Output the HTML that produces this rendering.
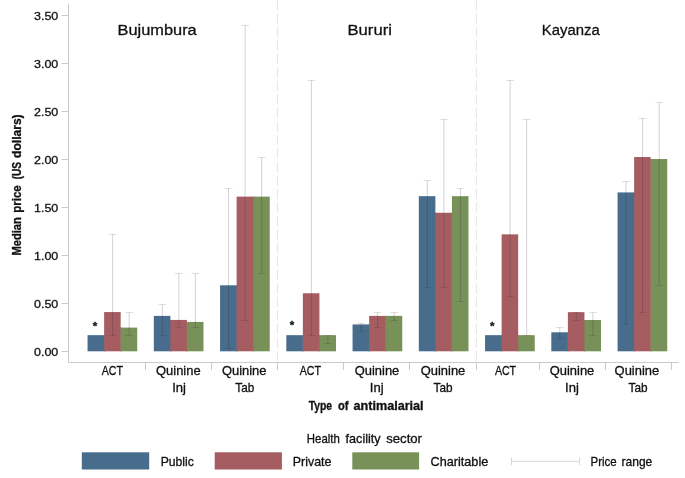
<!DOCTYPE html>
<html lang="en"><head><meta charset="utf-8"><title>Median price of antimalarials</title>
<style>html,body{margin:0;padding:0;background:#fff}svg{display:block}text{font-family:"Liberation Sans",sans-serif;fill:#111;stroke:#111;stroke-width:0.3px;stroke-linejoin:round}</style>
</head><body>
<svg width="685" height="478" viewBox="0 0 685 478">
<rect width="685" height="478" fill="#fff"/>
<line x1="277.4" y1="0" x2="277.4" y2="362.5" stroke="#e5e5e5" stroke-width="1" stroke-dasharray="10 3.5"/>
<line x1="476.4" y1="0" x2="476.4" y2="362.5" stroke="#e5e5e5" stroke-width="1" stroke-dasharray="10 3.5"/>
<rect x="103.62" y="335.18" width="1.5" height="16.12" fill="#486c8c"/>
<rect x="87.56" y="335.18" width="16.56" height="16.12" fill="#486c8c"/>
<rect x="120.18" y="327.60" width="1.5" height="23.70" fill="#a65d62"/>
<rect x="104.12" y="312.06" width="16.56" height="39.24" fill="#a65d62"/>
<rect x="120.68" y="327.60" width="16.56" height="23.70" fill="#779159"/>
<rect x="169.87" y="319.93" width="1.5" height="31.37" fill="#486c8c"/>
<rect x="153.81" y="315.90" width="16.56" height="35.40" fill="#486c8c"/>
<rect x="186.43" y="321.94" width="1.5" height="29.36" fill="#a65d62"/>
<rect x="170.37" y="319.93" width="16.56" height="31.37" fill="#a65d62"/>
<rect x="186.93" y="321.94" width="16.56" height="29.36" fill="#779159"/>
<rect x="236.12" y="285.29" width="1.5" height="66.01" fill="#486c8c"/>
<rect x="220.06" y="285.29" width="16.56" height="66.01" fill="#486c8c"/>
<rect x="252.68" y="196.64" width="1.5" height="154.66" fill="#a65d62"/>
<rect x="236.62" y="196.64" width="16.56" height="154.66" fill="#a65d62"/>
<rect x="253.18" y="196.64" width="16.56" height="154.66" fill="#779159"/>
<rect x="302.37" y="335.18" width="1.5" height="16.12" fill="#486c8c"/>
<rect x="286.31" y="335.18" width="16.56" height="16.12" fill="#486c8c"/>
<rect x="318.93" y="335.18" width="1.5" height="16.12" fill="#a65d62"/>
<rect x="302.87" y="293.26" width="16.56" height="58.04" fill="#a65d62"/>
<rect x="319.43" y="335.18" width="16.56" height="16.12" fill="#779159"/>
<rect x="368.62" y="324.44" width="1.5" height="26.86" fill="#486c8c"/>
<rect x="352.56" y="324.44" width="16.56" height="26.86" fill="#486c8c"/>
<rect x="385.18" y="315.90" width="1.5" height="35.40" fill="#a65d62"/>
<rect x="369.12" y="315.90" width="16.56" height="35.40" fill="#a65d62"/>
<rect x="385.68" y="315.90" width="16.56" height="35.40" fill="#779159"/>
<rect x="434.87" y="212.76" width="1.5" height="138.54" fill="#486c8c"/>
<rect x="418.81" y="196.17" width="16.56" height="155.13" fill="#486c8c"/>
<rect x="451.43" y="212.76" width="1.5" height="138.54" fill="#a65d62"/>
<rect x="435.37" y="212.76" width="16.56" height="138.54" fill="#a65d62"/>
<rect x="451.93" y="196.17" width="16.56" height="155.13" fill="#779159"/>
<rect x="501.12" y="335.18" width="1.5" height="16.12" fill="#486c8c"/>
<rect x="485.06" y="335.18" width="16.56" height="16.12" fill="#486c8c"/>
<rect x="517.68" y="335.18" width="1.5" height="16.12" fill="#a65d62"/>
<rect x="501.62" y="234.35" width="16.56" height="116.95" fill="#a65d62"/>
<rect x="518.18" y="335.18" width="16.56" height="16.12" fill="#779159"/>
<rect x="567.37" y="332.30" width="1.5" height="19.00" fill="#486c8c"/>
<rect x="551.31" y="332.30" width="16.56" height="19.00" fill="#486c8c"/>
<rect x="583.93" y="320.02" width="1.5" height="31.28" fill="#a65d62"/>
<rect x="567.87" y="312.16" width="16.56" height="39.14" fill="#a65d62"/>
<rect x="584.43" y="320.02" width="16.56" height="31.28" fill="#779159"/>
<rect x="633.62" y="192.42" width="1.5" height="158.88" fill="#486c8c"/>
<rect x="617.56" y="192.42" width="16.56" height="158.88" fill="#486c8c"/>
<rect x="650.18" y="159.04" width="1.5" height="192.26" fill="#a65d62"/>
<rect x="634.12" y="157.02" width="16.56" height="194.28" fill="#a65d62"/>
<rect x="650.68" y="159.04" width="16.56" height="192.26" fill="#779159"/>
<line x1="112.60" y1="234.50" x2="112.60" y2="335.50" stroke="rgba(30,30,30,0.24)" stroke-width="0.85"/>
<line x1="108.80" y1="234.50" x2="116.40" y2="234.50" stroke="rgba(30,30,30,0.17)" stroke-width="0.85"/>
<line x1="108.80" y1="335.50" x2="116.40" y2="335.50" stroke="rgba(30,30,30,0.17)" stroke-width="0.85"/>
<line x1="129.16" y1="312.50" x2="129.16" y2="335.50" stroke="rgba(30,30,30,0.24)" stroke-width="0.85"/>
<line x1="125.36" y1="312.50" x2="132.96" y2="312.50" stroke="rgba(30,30,30,0.17)" stroke-width="0.85"/>
<line x1="125.36" y1="335.50" x2="132.96" y2="335.50" stroke="rgba(30,30,30,0.17)" stroke-width="0.85"/>
<line x1="162.29" y1="304.50" x2="162.29" y2="335.50" stroke="rgba(30,30,30,0.24)" stroke-width="0.85"/>
<line x1="158.49" y1="304.50" x2="166.09" y2="304.50" stroke="rgba(30,30,30,0.17)" stroke-width="0.85"/>
<line x1="158.49" y1="335.50" x2="166.09" y2="335.50" stroke="rgba(30,30,30,0.17)" stroke-width="0.85"/>
<line x1="178.85" y1="273.50" x2="178.85" y2="327.50" stroke="rgba(30,30,30,0.24)" stroke-width="0.85"/>
<line x1="175.05" y1="273.50" x2="182.65" y2="273.50" stroke="rgba(30,30,30,0.17)" stroke-width="0.85"/>
<line x1="175.05" y1="327.50" x2="182.65" y2="327.50" stroke="rgba(30,30,30,0.17)" stroke-width="0.85"/>
<line x1="195.41" y1="273.50" x2="195.41" y2="327.50" stroke="rgba(30,30,30,0.24)" stroke-width="0.85"/>
<line x1="191.61" y1="273.50" x2="199.21" y2="273.50" stroke="rgba(30,30,30,0.17)" stroke-width="0.85"/>
<line x1="191.61" y1="327.50" x2="199.21" y2="327.50" stroke="rgba(30,30,30,0.17)" stroke-width="0.85"/>
<line x1="228.54" y1="188.50" x2="228.54" y2="348.50" stroke="rgba(30,30,30,0.24)" stroke-width="0.85"/>
<line x1="224.74" y1="188.50" x2="232.34" y2="188.50" stroke="rgba(30,30,30,0.17)" stroke-width="0.85"/>
<line x1="224.74" y1="348.50" x2="232.34" y2="348.50" stroke="rgba(30,30,30,0.17)" stroke-width="0.85"/>
<line x1="245.10" y1="25.50" x2="245.10" y2="320.50" stroke="rgba(30,30,30,0.24)" stroke-width="0.85"/>
<line x1="241.30" y1="25.50" x2="248.90" y2="25.50" stroke="rgba(30,30,30,0.17)" stroke-width="0.85"/>
<line x1="241.30" y1="320.50" x2="248.90" y2="320.50" stroke="rgba(30,30,30,0.17)" stroke-width="0.85"/>
<line x1="261.66" y1="157.50" x2="261.66" y2="273.50" stroke="rgba(30,30,30,0.24)" stroke-width="0.85"/>
<line x1="257.86" y1="157.50" x2="265.46" y2="157.50" stroke="rgba(30,30,30,0.17)" stroke-width="0.85"/>
<line x1="257.86" y1="273.50" x2="265.46" y2="273.50" stroke="rgba(30,30,30,0.17)" stroke-width="0.85"/>
<line x1="311.35" y1="80.50" x2="311.35" y2="335.50" stroke="rgba(30,30,30,0.24)" stroke-width="0.85"/>
<line x1="307.55" y1="80.50" x2="315.15" y2="80.50" stroke="rgba(30,30,30,0.17)" stroke-width="0.85"/>
<line x1="307.55" y1="335.50" x2="315.15" y2="335.50" stroke="rgba(30,30,30,0.17)" stroke-width="0.85"/>
<line x1="327.91" y1="335.50" x2="327.91" y2="343.50" stroke="rgba(30,30,30,0.24)" stroke-width="0.85"/>
<line x1="324.11" y1="335.50" x2="331.71" y2="335.50" stroke="rgba(30,30,30,0.17)" stroke-width="0.85"/>
<line x1="324.11" y1="343.50" x2="331.71" y2="343.50" stroke="rgba(30,30,30,0.17)" stroke-width="0.85"/>
<line x1="361.04" y1="323.50" x2="361.04" y2="331.50" stroke="rgba(30,30,30,0.24)" stroke-width="0.85"/>
<line x1="357.24" y1="323.50" x2="364.84" y2="323.50" stroke="rgba(30,30,30,0.17)" stroke-width="0.85"/>
<line x1="357.24" y1="331.50" x2="364.84" y2="331.50" stroke="rgba(30,30,30,0.17)" stroke-width="0.85"/>
<line x1="377.60" y1="312.50" x2="377.60" y2="327.50" stroke="rgba(30,30,30,0.24)" stroke-width="0.85"/>
<line x1="373.80" y1="312.50" x2="381.40" y2="312.50" stroke="rgba(30,30,30,0.17)" stroke-width="0.85"/>
<line x1="373.80" y1="327.50" x2="381.40" y2="327.50" stroke="rgba(30,30,30,0.17)" stroke-width="0.85"/>
<line x1="394.16" y1="312.50" x2="394.16" y2="320.50" stroke="rgba(30,30,30,0.24)" stroke-width="0.85"/>
<line x1="390.36" y1="312.50" x2="397.96" y2="312.50" stroke="rgba(30,30,30,0.17)" stroke-width="0.85"/>
<line x1="390.36" y1="320.50" x2="397.96" y2="320.50" stroke="rgba(30,30,30,0.17)" stroke-width="0.85"/>
<line x1="427.29" y1="180.50" x2="427.29" y2="287.50" stroke="rgba(30,30,30,0.24)" stroke-width="0.85"/>
<line x1="423.49" y1="180.50" x2="431.09" y2="180.50" stroke="rgba(30,30,30,0.17)" stroke-width="0.85"/>
<line x1="423.49" y1="287.50" x2="431.09" y2="287.50" stroke="rgba(30,30,30,0.17)" stroke-width="0.85"/>
<line x1="443.85" y1="119.50" x2="443.85" y2="287.50" stroke="rgba(30,30,30,0.24)" stroke-width="0.85"/>
<line x1="440.05" y1="119.50" x2="447.65" y2="119.50" stroke="rgba(30,30,30,0.17)" stroke-width="0.85"/>
<line x1="440.05" y1="287.50" x2="447.65" y2="287.50" stroke="rgba(30,30,30,0.17)" stroke-width="0.85"/>
<line x1="460.41" y1="188.50" x2="460.41" y2="301.50" stroke="rgba(30,30,30,0.24)" stroke-width="0.85"/>
<line x1="456.61" y1="188.50" x2="464.21" y2="188.50" stroke="rgba(30,30,30,0.17)" stroke-width="0.85"/>
<line x1="456.61" y1="301.50" x2="464.21" y2="301.50" stroke="rgba(30,30,30,0.17)" stroke-width="0.85"/>
<line x1="510.10" y1="80.50" x2="510.10" y2="296.50" stroke="rgba(30,30,30,0.24)" stroke-width="0.85"/>
<line x1="506.30" y1="80.50" x2="513.90" y2="80.50" stroke="rgba(30,30,30,0.17)" stroke-width="0.85"/>
<line x1="506.30" y1="296.50" x2="513.90" y2="296.50" stroke="rgba(30,30,30,0.17)" stroke-width="0.85"/>
<line x1="526.66" y1="119.50" x2="526.66" y2="335.50" stroke="rgba(30,30,30,0.24)" stroke-width="0.85"/>
<line x1="522.86" y1="119.50" x2="530.46" y2="119.50" stroke="rgba(30,30,30,0.17)" stroke-width="0.85"/>
<line x1="522.86" y1="335.50" x2="530.46" y2="335.50" stroke="rgba(30,30,30,0.17)" stroke-width="0.85"/>
<line x1="559.79" y1="327.50" x2="559.79" y2="338.50" stroke="rgba(30,30,30,0.24)" stroke-width="0.85"/>
<line x1="555.99" y1="327.50" x2="563.59" y2="327.50" stroke="rgba(30,30,30,0.17)" stroke-width="0.85"/>
<line x1="555.99" y1="338.50" x2="563.59" y2="338.50" stroke="rgba(30,30,30,0.17)" stroke-width="0.85"/>
<line x1="576.35" y1="312.50" x2="576.35" y2="320.50" stroke="rgba(30,30,30,0.24)" stroke-width="0.85"/>
<line x1="572.55" y1="312.50" x2="580.15" y2="312.50" stroke="rgba(30,30,30,0.17)" stroke-width="0.85"/>
<line x1="572.55" y1="320.50" x2="580.15" y2="320.50" stroke="rgba(30,30,30,0.17)" stroke-width="0.85"/>
<line x1="592.91" y1="312.50" x2="592.91" y2="335.50" stroke="rgba(30,30,30,0.24)" stroke-width="0.85"/>
<line x1="589.11" y1="312.50" x2="596.71" y2="312.50" stroke="rgba(30,30,30,0.17)" stroke-width="0.85"/>
<line x1="589.11" y1="335.50" x2="596.71" y2="335.50" stroke="rgba(30,30,30,0.17)" stroke-width="0.85"/>
<line x1="626.04" y1="181.50" x2="626.04" y2="324.50" stroke="rgba(30,30,30,0.24)" stroke-width="0.85"/>
<line x1="622.24" y1="181.50" x2="629.84" y2="181.50" stroke="rgba(30,30,30,0.17)" stroke-width="0.85"/>
<line x1="622.24" y1="324.50" x2="629.84" y2="324.50" stroke="rgba(30,30,30,0.17)" stroke-width="0.85"/>
<line x1="642.60" y1="118.50" x2="642.60" y2="312.50" stroke="rgba(30,30,30,0.24)" stroke-width="0.85"/>
<line x1="638.80" y1="118.50" x2="646.40" y2="118.50" stroke="rgba(30,30,30,0.17)" stroke-width="0.85"/>
<line x1="638.80" y1="312.50" x2="646.40" y2="312.50" stroke="rgba(30,30,30,0.17)" stroke-width="0.85"/>
<line x1="659.16" y1="102.50" x2="659.16" y2="285.50" stroke="rgba(30,30,30,0.24)" stroke-width="0.85"/>
<line x1="655.36" y1="102.50" x2="662.96" y2="102.50" stroke="rgba(30,30,30,0.17)" stroke-width="0.85"/>
<line x1="655.36" y1="285.50" x2="662.96" y2="285.50" stroke="rgba(30,30,30,0.17)" stroke-width="0.85"/>
<line x1="68.5" y1="3.5" x2="68.5" y2="362.5" stroke="#cacaca" stroke-width="1"/>
<line x1="68.5" y1="362.5" x2="678.5" y2="362.5" stroke="#cacaca" stroke-width="1"/>
<line x1="61.2" y1="351.50" x2="68.5" y2="351.50" stroke="#cacaca" stroke-width="1"/>
<text x="58.3" y="355.70" font-size="11.8" text-anchor="end" textLength="24.3" lengthAdjust="spacingAndGlyphs">0.00</text>
<line x1="61.2" y1="303.50" x2="68.5" y2="303.50" stroke="#cacaca" stroke-width="1"/>
<text x="58.3" y="307.70" font-size="11.8" text-anchor="end" textLength="24.3" lengthAdjust="spacingAndGlyphs">0.50</text>
<line x1="61.2" y1="255.50" x2="68.5" y2="255.50" stroke="#cacaca" stroke-width="1"/>
<text x="58.3" y="259.70" font-size="11.8" text-anchor="end" textLength="24.3" lengthAdjust="spacingAndGlyphs">1.00</text>
<line x1="61.2" y1="207.50" x2="68.5" y2="207.50" stroke="#cacaca" stroke-width="1"/>
<text x="58.3" y="211.70" font-size="11.8" text-anchor="end" textLength="24.3" lengthAdjust="spacingAndGlyphs">1.50</text>
<line x1="61.2" y1="159.50" x2="68.5" y2="159.50" stroke="#cacaca" stroke-width="1"/>
<text x="58.3" y="163.70" font-size="11.8" text-anchor="end" textLength="24.3" lengthAdjust="spacingAndGlyphs">2.00</text>
<line x1="61.2" y1="111.50" x2="68.5" y2="111.50" stroke="#cacaca" stroke-width="1"/>
<text x="58.3" y="115.70" font-size="11.8" text-anchor="end" textLength="24.3" lengthAdjust="spacingAndGlyphs">2.50</text>
<line x1="61.2" y1="63.50" x2="68.5" y2="63.50" stroke="#cacaca" stroke-width="1"/>
<text x="58.3" y="67.70" font-size="11.8" text-anchor="end" textLength="24.3" lengthAdjust="spacingAndGlyphs">3.00</text>
<line x1="61.2" y1="15.50" x2="68.5" y2="15.50" stroke="#cacaca" stroke-width="1"/>
<text x="58.3" y="19.70" font-size="11.8" text-anchor="end" textLength="24.3" lengthAdjust="spacingAndGlyphs">3.50</text>
<line x1="145.5" y1="362.5" x2="145.5" y2="370" stroke="#cacaca" stroke-width="1"/>
<line x1="211.5" y1="362.5" x2="211.5" y2="370" stroke="#cacaca" stroke-width="1"/>
<line x1="277.5" y1="362.5" x2="277.5" y2="370" stroke="#cacaca" stroke-width="1"/>
<line x1="343.5" y1="362.5" x2="343.5" y2="370" stroke="#cacaca" stroke-width="1"/>
<line x1="409.5" y1="362.5" x2="409.5" y2="370" stroke="#cacaca" stroke-width="1"/>
<line x1="476.5" y1="362.5" x2="476.5" y2="370" stroke="#cacaca" stroke-width="1"/>
<line x1="539.5" y1="362.5" x2="539.5" y2="370" stroke="#cacaca" stroke-width="1"/>
<line x1="605.5" y1="362.5" x2="605.5" y2="370" stroke="#cacaca" stroke-width="1"/>
<line x1="671.5" y1="362.5" x2="671.5" y2="370" stroke="#cacaca" stroke-width="1"/>
<text x="112.40" y="374.9" font-size="12.35" text-anchor="middle" textLength="21.2" lengthAdjust="spacingAndGlyphs">ACT</text>
<text x="178.30" y="374.9" font-size="12.35" text-anchor="middle" textLength="44.6" lengthAdjust="spacingAndGlyphs">Quinine</text>
<text x="179.10" y="391.5" font-size="12.35" text-anchor="middle" textLength="13.8" lengthAdjust="spacingAndGlyphs">Inj</text>
<text x="244.20" y="374.9" font-size="12.35" text-anchor="middle" textLength="44.6" lengthAdjust="spacingAndGlyphs">Quinine</text>
<text x="244.80" y="391.5" font-size="12.35" text-anchor="middle" textLength="19.0" lengthAdjust="spacingAndGlyphs">Tab</text>
<text x="310.30" y="374.9" font-size="12.35" text-anchor="middle" textLength="21.2" lengthAdjust="spacingAndGlyphs">ACT</text>
<text x="377.00" y="374.9" font-size="12.35" text-anchor="middle" textLength="44.6" lengthAdjust="spacingAndGlyphs">Quinine</text>
<text x="376.70" y="391.5" font-size="12.35" text-anchor="middle" textLength="13.8" lengthAdjust="spacingAndGlyphs">Inj</text>
<text x="443.00" y="374.9" font-size="12.35" text-anchor="middle" textLength="44.6" lengthAdjust="spacingAndGlyphs">Quinine</text>
<text x="443.10" y="391.5" font-size="12.35" text-anchor="middle" textLength="19.0" lengthAdjust="spacingAndGlyphs">Tab</text>
<text x="505.50" y="374.9" font-size="12.35" text-anchor="middle" textLength="21.2" lengthAdjust="spacingAndGlyphs">ACT</text>
<text x="572.00" y="374.9" font-size="12.35" text-anchor="middle" textLength="44.6" lengthAdjust="spacingAndGlyphs">Quinine</text>
<text x="571.90" y="391.5" font-size="12.35" text-anchor="middle" textLength="13.8" lengthAdjust="spacingAndGlyphs">Inj</text>
<text x="636.90" y="374.9" font-size="12.35" text-anchor="middle" textLength="44.6" lengthAdjust="spacingAndGlyphs">Quinine</text>
<text x="638.10" y="391.5" font-size="12.35" text-anchor="middle" textLength="19.0" lengthAdjust="spacingAndGlyphs">Tab</text>
<text x="95.0" y="330.3" font-size="11.5" font-weight="bold" text-anchor="middle">*</text>
<text x="292.0" y="328.6" font-size="11.5" font-weight="bold" text-anchor="middle">*</text>
<text x="492.3" y="330.4" font-size="11.5" font-weight="bold" text-anchor="middle">*</text>
<text x="117.5" y="34.5" font-size="15.5" textLength="79.2" lengthAdjust="spacingAndGlyphs">Bujumbura</text>
<text x="347.5" y="34.5" font-size="15.5" textLength="44.4" lengthAdjust="spacingAndGlyphs">Bururi</text>
<text x="541.8" y="34.5" font-size="15.5" textLength="58.0" lengthAdjust="spacingAndGlyphs">Kayanza</text>
<text x="308.7" y="409.5" font-size="11.9" font-weight="bold" textLength="23.3" lengthAdjust="spacingAndGlyphs">Type</text><text x="337.9" y="409.5" font-size="11.9" font-weight="bold" textLength="10.5" lengthAdjust="spacingAndGlyphs">of</text><text x="353.5" y="409.5" font-size="11.9" font-weight="bold" textLength="70.1" lengthAdjust="spacingAndGlyphs">antimalarial</text>
<g transform="translate(20.7 256) rotate(-90)"><text x="0.4" y="0" font-size="11.9" font-weight="bold" textLength="38.5" lengthAdjust="spacingAndGlyphs">Median</text><text x="43.2" y="0" font-size="11.9" font-weight="bold" textLength="27.5" lengthAdjust="spacingAndGlyphs">price</text><text x="76.7" y="0" font-size="11.9" font-weight="bold" textLength="17.4" lengthAdjust="spacingAndGlyphs">(US</text><text x="98.1" y="0" font-size="11.9" font-weight="bold" textLength="43.5" lengthAdjust="spacingAndGlyphs">dollars)</text></g>
<text x="306.8" y="442.9" font-size="12.2" textLength="33.0" lengthAdjust="spacingAndGlyphs">Health</text><text x="345.6" y="442.9" font-size="12.2" textLength="35.0" lengthAdjust="spacingAndGlyphs">facility</text><text x="386.2" y="442.9" font-size="12.2" textLength="35.8" lengthAdjust="spacingAndGlyphs">sector</text>
<rect x="81.8" y="452.3" width="67.4" height="17.2" fill="#486c8c"/>
<text x="160.7" y="466" font-size="12.2" textLength="33.2" lengthAdjust="spacingAndGlyphs">Public</text>
<rect x="214.7" y="452.3" width="67.2" height="17.2" fill="#a65d62"/>
<text x="292.8" y="466" font-size="12.2" textLength="38.7" lengthAdjust="spacingAndGlyphs">Private</text>
<rect x="352.3" y="452.3" width="66.8" height="17.2" fill="#779159"/>
<text x="430.5" y="466" font-size="12.2" textLength="57.8" lengthAdjust="spacingAndGlyphs">Charitable</text>
<line x1="511.3" y1="461.3" x2="579.7" y2="461.3" stroke="#d6d6d6" stroke-width="1"/>
<line x1="511.5" y1="457.5" x2="511.5" y2="465.2" stroke="#d6d6d6" stroke-width="1"/>
<line x1="579.5" y1="457.5" x2="579.5" y2="465.2" stroke="#d6d6d6" stroke-width="1"/>
<text x="590.5" y="466" font-size="12.2" textLength="26.2" lengthAdjust="spacingAndGlyphs">Price</text><text x="621.5" y="466" font-size="12.2" textLength="30.8" lengthAdjust="spacingAndGlyphs">range</text>
</svg>
</body></html>
